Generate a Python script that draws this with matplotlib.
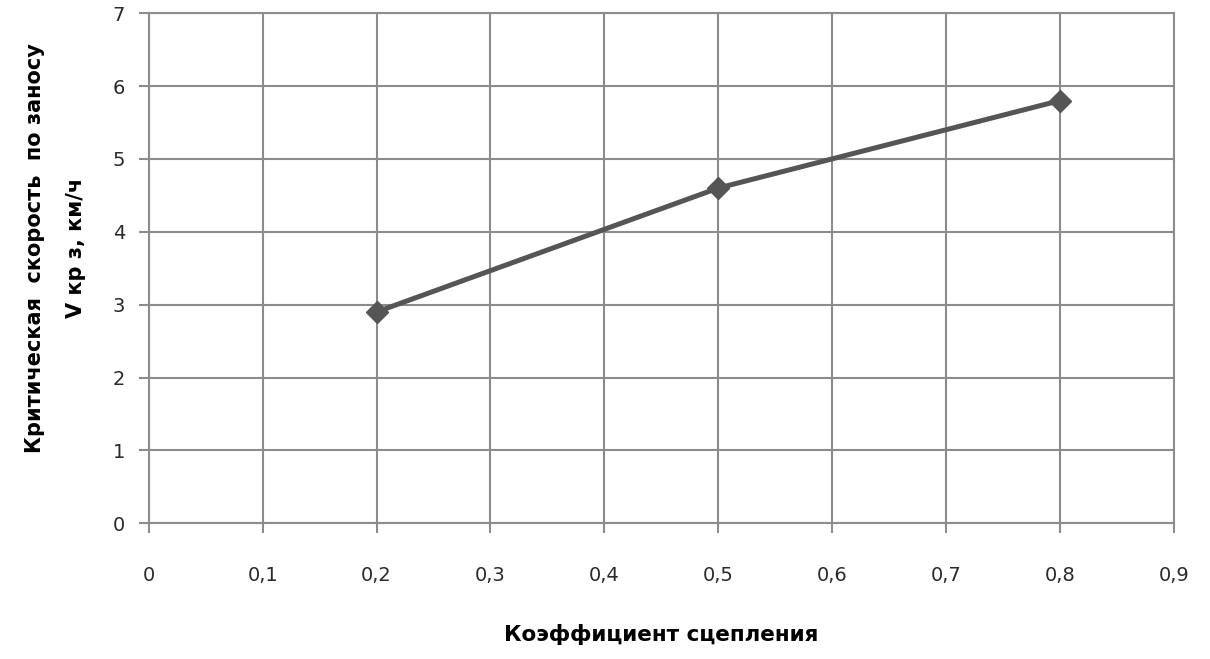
import matplotlib
matplotlib.use("Agg")
import matplotlib.pyplot as plt

x_vals = [0.2, 0.5, 0.8]
y_vals = [2.9, 4.6, 5.8]
x_ticks = [0, 0.1, 0.2, 0.3, 0.4, 0.5, 0.6, 0.7, 0.8, 0.9]
x_tick_labels = ["0", "0,1", "0,2", "0,3", "0,4", "0,5", "0,6", "0,7", "0,8", "0,9"]
y_ticks = [0, 1, 2, 3, 4, 5, 6, 7]
x_label = "Коэффициент сцепления"
y_label = "Критическая  скорость  по заносу\nV кр з, км/ч"

plt.rcParams['font.family'] = ['DejaVu Sans']

fig = plt.figure(figsize=(12.10, 6.59), dpi=100)
ax = fig.add_axes([0.123, 0.206, 0.847, 0.774])

grid_c = "#8c8c8c"
ax.set_xlim(0, 0.9)
ax.set_ylim(0, 7)
ax.set_xticks(x_ticks)
ax.set_xticklabels(x_tick_labels)
ax.set_yticks(y_ticks)
ax.grid(True, color=grid_c, linewidth=1.5)
ax.set_axisbelow(True)
for s in ax.spines.values():
    s.set_color(grid_c)
    s.set_linewidth(1.5)

ax.plot(x_vals, y_vals, color="#555555", linewidth=3.6, marker="D",
        markersize=11, markerfacecolor="#555555", markeredgecolor="#555555",
        zorder=3, clip_on=False)

ax.tick_params(axis='y', length=7, width=1.5, color=grid_c, pad=10, labelsize=14, labelcolor="#2a2a2a")
ax.tick_params(axis='x', length=7, width=1.5, color=grid_c, pad=24, labelsize=14, labelcolor="#2a2a2a")

ax.set_xlabel(x_label, fontsize=15.5, fontweight='bold', labelpad=28)
ax.set_ylabel(y_label, fontsize=15, fontweight='bold', linespacing=2.3,
              va='center', ha='center')
ax.yaxis.set_label_coords(-0.091, 0.54)

fig.savefig("out.png", dpi=100, facecolor="white")
